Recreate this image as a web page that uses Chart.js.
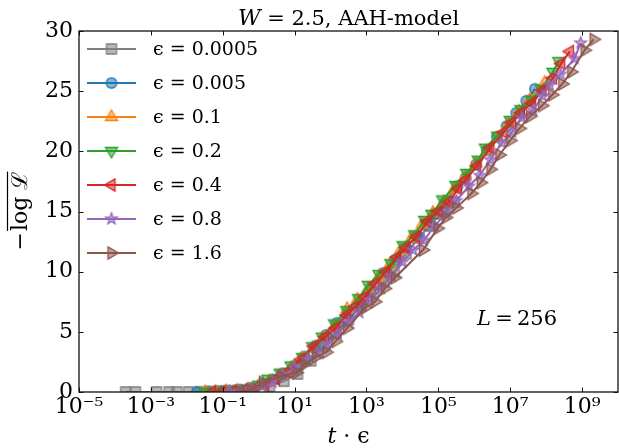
<!DOCTYPE html>
<html><head><meta charset="utf-8">
<script src="https://cdn.jsdelivr.net/npm/chart.js@4.4.0/dist/chart.umd.min.js"></script>
<style>html,body{margin:0;padding:0;overflow:hidden;background:#fff;width:619px;height:448px}canvas{display:block}</style>
</head><body>
<canvas id="c" width="625" height="448"></canvas>
<script>
// ---- data ----
const seriesLabels = ['ϵ = 0.0005','ϵ = 0.005','ϵ = 0.1','ϵ = 0.2','ϵ = 0.4','ϵ = 0.8','ϵ = 1.6'];
const seriesColors = ['#7f7f7f','#1f77b4','#ff7f0e','#2ca02c','#d62728','#9467bd','#8c564b'];
const seriesMarkers = ['square','circle','triUp','triDown','triLeft','star','triRight'];
const xTickExponents = [-5,-3,-1,1,3,5,7,9];
const xTickLabels = ['10⁻⁵','10⁻³','10⁻¹','10¹','10³','10⁵','10⁷','10⁹'];
const yTickValues = [0,5,10,15,20,25,30];

// log10(t·ϵ) and −log L for each ϵ
const log10tEps_e0005 = [-3.70,-3.43,-2.84,-2.49,-2.28,-1.95,-1.62,-1.28,-0.93,-0.58,-0.22,0.30,0.70,1.08,1.45,1.80,2.15,2.50,2.85,3.20,3.50,3.77,4.10,4.45,4.75,4.98,5.21,5.43];
const negLogL_e0005  = [0,0,0,0,0,0,0.02,0.05,0.1,0.15,0.25,0.45,0.9,1.5,2.6,3.8,4.9,6.0,7.2,8.3,9.2,10.0,11.5,12.8,13.8,14.8,15.1,15.8];

const log10tEps_e005 = [-1.72,-1.42,-1.12,-0.82,-0.52,-0.22,0.08,0.38,0.68,0.98,1.28,1.58,1.88,2.18,2.50,2.80,3.10,3.47,3.80,4.10,4.40,4.66,4.90,5.17,5.53,5.76,6.05,6.35,6.63,6.90,7.17,7.45,7.69];
const negLogL_e005  = [0,0.03,0.07,0.12,0.2,0.35,0.65,1.05,1.55,2.15,2.95,3.85,4.75,5.75,6.6,7.4,8.3,9.9,11.0,12.0,13.0,13.9,14.8,15.7,17.1,17.8,18.9,20.1,21.2,22.1,23.2,24.2,25.2];

const log10tEps_e01 = [-1.49,-1.20,-0.90,-0.60,-0.30,0.00,0.30,0.60,0.90,1.20,1.50,1.80,2.10,2.46,2.75,3.05,3.35,3.65,3.95,4.25,4.55,4.85,5.15,5.45,5.75,6.05,6.35,6.65,6.95,7.25,7.55,7.96];
const negLogL_e01  = [0,0.03,0.07,0.12,0.25,0.5,0.9,1.4,2.0,2.8,3.6,4.5,5.4,6.9,7.7,8.6,9.6,10.6,11.8,12.8,13.9,14.9,15.8,16.9,17.9,19.0,20.0,21.1,22.3,23.3,24.3,25.7];

const log10tEps_e02 = [-1.50,-1.23,-0.90,-0.60,-0.30,0.00,0.26,0.60,0.90,1.22,1.50,1.77,2.11,2.45,2.78,3.05,3.35,3.68,4.02,4.34,4.62,4.82,5.12,5.49,5.79,6.11,6.31,6.65,7.00,7.30,7.60,7.87,8.19,8.35];
const negLogL_e02  = [0,0.03,0.07,0.12,0.28,0.6,1.1,1.6,2.2,2.9,3.8,4.6,5.7,6.8,7.8,8.9,9.8,10.7,12.2,13.1,14.3,14.8,16.0,17.2,18.2,19.3,20.3,21.3,22.6,23.5,24.3,25.2,26.6,27.5];

const log10tEps_e04 = [-1.30,-1.03,-0.72,-0.42,-0.12,0.18,0.48,0.80,1.17,1.54,1.85,2.14,2.45,2.70,2.96,3.25,3.55,3.85,4.10,4.39,4.70,5.00,5.30,5.55,5.76,6.08,6.45,6.82,7.05,7.30,7.60,7.90,8.19,8.42,8.66];
const negLogL_e04  = [0,0.03,0.07,0.15,0.3,0.6,1.1,1.7,2.7,3.8,4.6,5.3,6.4,7.1,7.9,9.0,10.0,11.2,12.0,12.9,14.2,15.0,15.8,16.9,17.6,18.8,20.3,21.6,22.4,23.2,24.0,25.1,26.1,27.3,28.3];

const log10tEps_e08 = [-0.80,-0.52,-0.20,0.10,0.38,0.67,1.00,1.36,1.63,1.90,2.20,2.50,2.80,3.10,3.40,3.70,4.00,4.30,4.60,4.90,5.20,5.50,5.85,6.15,6.45,6.77,7.05,7.32,7.64,7.90,8.10,8.40,8.79,8.96];
const negLogL_e08  = [0,0.05,0.25,0.5,0.8,1.4,2.0,2.7,3.2,3.9,4.8,5.8,6.6,7.6,8.6,9.6,10.8,11.8,12.6,13.8,14.8,15.9,17.1,18.0,19.3,20.7,21.6,22.8,23.4,24.6,25.5,26.4,27.7,29.0];

const log10tEps_e16 = [-0.51,-0.21,0.12,0.62,1.05,1.27,1.59,1.88,2.14,2.46,2.96,3.24,3.51,3.79,4.57,4.98,5.21,5.50,5.92,6.18,6.45,6.70,7.00,7.26,7.55,7.89,8.17,8.45,8.70,9.07,9.32];
const negLogL_e16  = [0.02,0.15,0.8,1.3,1.6,2.3,2.9,3.3,4.2,5.3,7.0,7.5,8.6,9.5,11.8,13.6,14.5,15.3,16.5,17.4,18.5,19.7,20.9,21.9,22.9,23.8,24.7,25.6,26.6,28.4,29.3];

const seriesX = [log10tEps_e0005, log10tEps_e005, log10tEps_e01, log10tEps_e02, log10tEps_e04, log10tEps_e08, log10tEps_e16];
const seriesY = [negLogL_e0005, negLogL_e005, negLogL_e01, negLogL_e02, negLogL_e04, negLogL_e08, negLogL_e16];

// ---- marker images ----
function rgba(hex, a){ const n = parseInt(hex.slice(1),16); return `rgba(${n>>16},${(n>>8)&255},${n&255},${a})`; }
function makeMarker(kind, color){
  const c = document.createElement('canvas'); c.width = 20; c.height = 20;
  const g = c.getContext('2d'); g.translate(10,10);
  g.fillStyle = rgba(color, 0.55); g.strokeStyle = color; g.lineWidth = 1.3; g.lineJoin = 'miter';
  g.beginPath();
  const tri = (ang) => { const r = 7; for (let k = 0; k < 3; k++){ const t = ang + k*2*Math.PI/3; const px = r*Math.cos(t), py = r*Math.sin(t); if (k) g.lineTo(px,py); else g.moveTo(px,py);} g.closePath(); };
  switch(kind){
    case 'square': g.rect(-5,-5,10,10); break;
    case 'circle': g.arc(0,0,5.2,0,2*Math.PI); break;
    case 'triUp': tri(-Math.PI/2); break;
    case 'triDown': tri(Math.PI/2); break;
    case 'triLeft': tri(Math.PI); break;
    case 'triRight': tri(0); break;
    case 'star':
      for (let k = 0; k < 10; k++){ const r = k%2 ? 2.5 : 6; const t = -Math.PI/2 + k*Math.PI/5; const px = r*Math.cos(t), py = r*Math.sin(t); if (k) g.lineTo(px,py); else g.moveTo(px,py);} g.closePath(); break;
  }
  g.fill(); g.stroke();
  return c;
}
const markerImgs = seriesMarkers.map((m,i) => makeMarker(m, seriesColors[i]));

const datasets = seriesLabels.map((lab, i) => ({
  label: lab,
  data: seriesX[i].map((lx, k) => ({x: Math.pow(10, lx), y: seriesY[i][k]})),
  borderColor: seriesColors[i],
  backgroundColor: rgba(seriesColors[i], 0.5),
  borderWidth: 2,
  pointStyle: markerImgs[i],
  pointRadius: 5,
  pointHoverRadius: 5,
  showLine: true,
  fill: false,
  tension: 0,
  order: seriesLabels.length - 1 - i
}));

const SERIF = '"DejaVu Serif", serif';

const decor = {
  id: 'decor',
  afterDraw(chart){
    const {ctx, chartArea: a, scales: {x, y}} = chart;
    ctx.save();
    // frame
    ctx.strokeStyle = '#111'; ctx.lineWidth = 1.3;
    ctx.strokeRect(a.left, a.top, a.right - a.left, a.bottom - a.top);
    // inward ticks
    ctx.lineWidth = 1;
    ctx.beginPath();
    x.ticks.forEach(t => {
      const px = Math.round(x.getPixelForValue(t.value)) + 0.5;
      ctx.moveTo(px, a.bottom); ctx.lineTo(px, a.bottom - 4.5);
      ctx.moveTo(px, a.top); ctx.lineTo(px, a.top + 4.5);
    });
    y.ticks.forEach(t => {
      const py = Math.round(y.getPixelForValue(t.value)) + 0.5;
      ctx.moveTo(a.left, py); ctx.lineTo(a.left + 4.5, py);
      ctx.moveTo(a.right, py); ctx.lineTo(a.right - 4.5, py);
    });
    ctx.stroke();

    ctx.fillStyle = '#000';
    ctx.textBaseline = 'alphabetic';
    ctx.textAlign = 'left';
    // title
    const cx = (a.left + a.right) / 2;
    ctx.font = 'italic 22px ' + SERIF; const tW = ctx.measureText('W').width;
    ctx.font = '21px ' + SERIF; const tRest = ' = 2.5, AAH-model'; const tR = ctx.measureText(tRest).width;
    let sx = cx - (tW + tR) / 2;
    ctx.font = 'italic 22px ' + SERIF; ctx.fillText('W', sx, 25);
    ctx.font = '21px ' + SERIF; ctx.fillText(tRest, sx + tW, 25);

    // x label
    ctx.font = 'italic 22px ' + SERIF; const w1 = ctx.measureText('t').width;
    ctx.font = '22px ' + SERIF; const w2 = ctx.measureText(' · ϵ').width;
    sx = cx - (w1 + w2) / 2;
    ctx.font = 'italic 22px ' + SERIF; ctx.fillText('t', sx, 443);
    ctx.font = '22px ' + SERIF; ctx.fillText(' · ϵ', sx + w1, 443);

    // y label
    ctx.save();
    ctx.translate(27, (a.top + a.bottom) / 2);
    ctx.rotate(-Math.PI / 2);
    ctx.font = '22px ' + SERIF;
    const m = '−', body = 'log ℒ';
    const wm = ctx.measureText(m).width, wb = ctx.measureText(body).width;
    const s0 = -(wm + wb) / 2;
    ctx.fillText(m, s0, 0);
    ctx.fillText(body, s0 + wm + 1, 0);
    ctx.lineWidth = 1.2; ctx.strokeStyle = '#000';
    ctx.beginPath(); ctx.moveTo(s0 + wm + 1, -19.5); ctx.lineTo(s0 + wm + 1 + wb, -19.5); ctx.stroke();
    ctx.restore();

    // annotation
    ctx.font = 'italic 21px ' + SERIF; const wl = ctx.measureText('L').width;
    ctx.fillText('L', 477, 325);
    ctx.font = '21px ' + SERIF; ctx.fillText('\u2009=\u2009256', 477 + wl, 325);

    // legend
    ctx.textBaseline = 'middle';
    ctx.font = '19px ' + SERIF;
    seriesLabels.forEach((lab, i) => {
      const yy = a.top + 18 + 34 * i;
      ctx.strokeStyle = seriesColors[i]; ctx.lineWidth = 2;
      ctx.beginPath(); ctx.moveTo(a.left + 8, yy); ctx.lineTo(a.left + 57, yy); ctx.stroke();
      ctx.drawImage(markerImgs[i], a.left + 32.5 - 10, yy - 10);
      ctx.fillStyle = '#000';
      ctx.fillText(lab, a.left + 74, yy + 1);
    });
    ctx.restore();
  }
};

new Chart(document.getElementById('c'), {
  type: 'scatter',
  data: { datasets },
  options: {
    responsive: false,
    animation: false,
    layout: { padding: { top: 31, right: 1, left: 0, bottom: 0 } },
    plugins: { legend: { display: false }, tooltip: { enabled: false }, title: { display: false } },
    scales: {
      x: {
        type: 'logarithmic', position: 'bottom',
        min: Math.pow(10, -5), max: Math.pow(10, 10),
        afterBuildTicks: (s) => { s.ticks = xTickExponents.map(e => ({ value: Math.pow(10, e) })); },
        afterFit: (s) => { s.height = 56; },
        grid: { display: false, drawTicks: false },
        border: { display: false },
        ticks: {
          autoSkip: false, maxRotation: 0, minRotation: 0, padding: 2,
          color: '#000', font: { family: SERIF, size: 22 },
          callback: (v, i) => xTickLabels[i]
        }
      },
      y: {
        type: 'linear', min: 0, max: 30,
        afterBuildTicks: (s) => { s.ticks = yTickValues.map(v => ({ value: v })); },
        afterFit: (s) => { s.width = 79; },
        grid: { display: false, drawTicks: false },
        border: { display: false },
        ticks: { padding: 6, color: '#000', font: { family: SERIF, size: 22 } }
      }
    }
  },
  plugins: [decor]
});
</script>
</body></html>
